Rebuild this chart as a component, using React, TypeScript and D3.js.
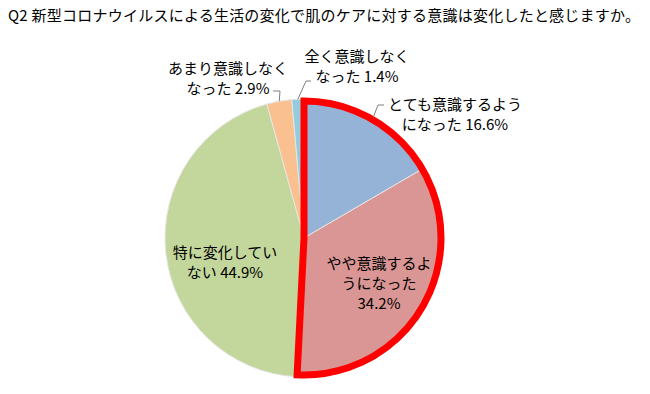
import React from "react";
import { pie, arc, PieArcDatum } from "d3";

const title = "Q2 新型コロナウイルスによる生活の変化で肌のケアに対する意識は変化したと感じますか。";
const categories = [
  "とても意識するようになった",
  "やや意識するようになった",
  "特に変化していない",
  "あまり意識しなくなった",
  "全く意識しなくなった",
];
const values = [16.6, 34.2, 44.9, 2.9, 1.4];
const colors = ["#95B3D7", "#D99694", "#C3D69B", "#FAC090", "#93CDDD"];
const labelLines = [
  ["とても意識するよう", "になった 16.6%"],
  ["やや意識するよ", "うになった", "34.2%"],
  ["特に変化してい", "ない 44.9%"],
  ["あまり意識しなく", "なった 2.9%"],
  ["全く意識しなく", "なった 1.4%"],
];

// label layout: text centre x, first line centre y, leader elbow + short tick end
const layout = [
  { x: 455, y: 103, elbow: [378, 105], tick: 384 },
  { x: 379, y: 262, elbow: null, tick: 0 },
  { x: 225, y: 251, elbow: null, tick: 0 },
  { x: 228, y: 67, elbow: [280, 91], tick: 273 },
  { x: 357, y: 55, elbow: [306, 81], tick: 311 },
];

const W = 650;
const H = 394;
const cx = 304;
const cy = 238;
const R = 139;
const FONT = "'MS Gothic','Noto Sans CJK JP',sans-serif";

export default function App() {
  const arcs = pie<number>().sort(null).value((d) => d)(values);
  const arcGen = arc<PieArcDatum<number>>().innerRadius(0).outerRadius(R);
  const outerPt = (a: PieArcDatum<number>) => {
    const m = (a.startAngle + a.endAngle) / 2;
    return [cx + R * Math.sin(m), cy - R * Math.cos(m)];
  };
  // red outline round the first two slices
  const hl = arc()({
    innerRadius: 0,
    outerRadius: R - 2,
    startAngle: arcs[0].startAngle,
    endAngle: arcs[1].endAngle,
  } as any);

  return (
    <svg width={W} height={H} style={{ position: "absolute", left: 0, top: 0 }}>
      <rect width={W} height={H} fill="#fff" />
      <text
        x={8}
        y={14}
        fontSize={15}
        fontFamily={FONT}
        dominantBaseline="central"
        textLength={632}
        lengthAdjust="spacing"
        fill="#000"
      >
        {title}
      </text>
      <g transform={`translate(${cx},${cy})`}>
        {arcs.map((a, i) => (
          <path key={categories[i]} d={arcGen(a) || ""} fill={colors[i]} stroke="#e6e6e6" strokeWidth={1} />
        ))}
        <path d={hl || ""} fill="none" stroke="#ff0000" strokeWidth={7} strokeLinejoin="miter" />
      </g>
      {arcs.map((a, i) => {
        const L = layout[i];
        if (!L.elbow) return null;
        const p = outerPt(a);
        const e = L.elbow;
        return (
          <polyline
            key={"l" + i}
            points={`${L.tick},${e[1]} ${e[0]},${e[1]} ${p[0]},${p[1]}`}
            fill="none"
            stroke="#7f7f7f"
            strokeWidth={1}
          />
        );
      })}
      {labelLines.map((lines, i) => (
        <text
          key={"t" + i}
          fontSize={15}
          fontFamily={FONT}
          textAnchor="middle"
          dominantBaseline="central"
          fill="#000"
        >
          {lines.map((ln, j) => (
            <tspan key={j} x={layout[i].x} y={layout[i].y + j * 20}>
              {ln}
            </tspan>
          ))}
        </text>
      ))}
    </svg>
  );
}
